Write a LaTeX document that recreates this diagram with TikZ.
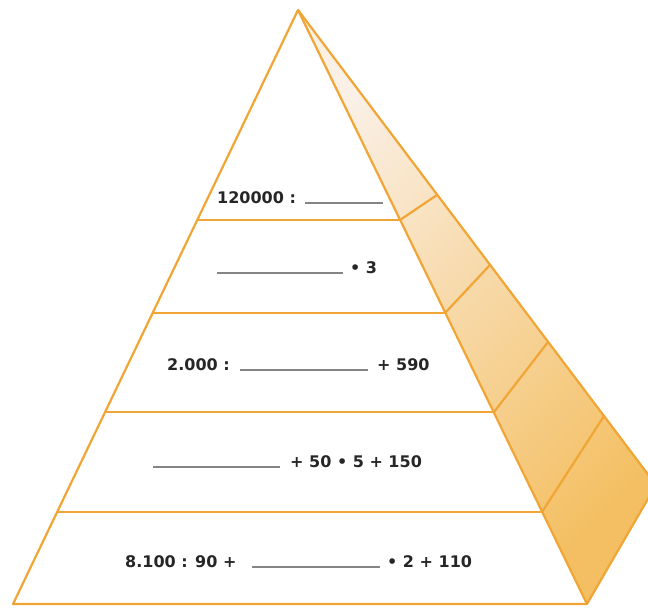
\documentclass[tikz,border=0pt]{standalone}
\usepackage{fontspec}
\setmainfont{DejaVu Sans}
\definecolor{edge}{HTML}{F0A535}
\definecolor{sidelight}{HTML}{FAF0E6}
\definecolor{sidedark}{HTML}{F4BF62}
\definecolor{txt}{HTML}{262626}
\definecolor{blank}{HTML}{858585}
\begin{document}
\begin{tikzpicture}[x=1pt,y=-1pt,
  edgeline/.style={draw=edge, line width=2.2pt, line join=round},
  eq/.style={anchor=base west, inner sep=0pt, font=\fontsize{16}{19}\selectfont\bfseries, text=txt},
  blankline/.style={draw=blank, line width=1.4pt}]
\useasboundingbox (0,0) rectangle (648,608);
\clip (0,0) rectangle (648,608);
% pyramid corners
\coordinate (A) at (298,10);
\coordinate (BL) at (13,604);
\coordinate (BR) at (587,604);
\coordinate (C) at (656,485);
% front level points
\coordinate (L1) at (197,220); \coordinate (R1) at (400,220); \coordinate (S1) at (437,195);
\coordinate (L2) at (153,313); \coordinate (R2) at (445,313); \coordinate (S2) at (490,265);
\coordinate (L3) at (105,412); \coordinate (R3) at (494,412); \coordinate (S3) at (548,342);
\coordinate (L4) at (57,512);  \coordinate (R4) at (542,512); \coordinate (S4) at (604,416);
% side face
\shade[top color=sidelight, bottom color=sidedark, shading angle=45] (A) -- (C) -- (BR) -- cycle;
\draw[edgeline] (A) -- (C) -- (BR);
\draw[edgeline] (R1) -- (S1);
\draw[edgeline] (R2) -- (S2);
\draw[edgeline] (R3) -- (S3);
\draw[edgeline] (R4) -- (S4);
% front face
\draw[edgeline, fill=white] (A) -- (BL) -- (BR) -- cycle;
\draw[edgeline] (L1) -- (R1);
\draw[edgeline] (L2) -- (R2);
\draw[edgeline] (L3) -- (R3);
\draw[edgeline] (L4) -- (R4);
% row 1
\node[eq] (t1a) at (217,203) {120000 :};
\draw[blankline] (305,203) -- (383,203);
% row 2
\draw[blankline] (217,273) -- (343,273);
\node[eq] (t2b) at (350,273) {• 3};
% row 3
\node[eq] (t3a) at (167,370) {2.000 :};
\draw[blankline] (240,370) -- (368,370);
\node[eq] (t3b) at (377,370) {+ 590};
% row 4
\draw[blankline] (153,467) -- (280,467);
\node[eq] (t4b) at (290,467) {+ 50 • 5 + 150};
% row 5
\node[eq] (t5a) at (125,567) {8.100 : 90 +};
\draw[blankline] (252,567) -- (380,567);
\node[eq] (t5b) at (387,567) {• 2 + 110};
\end{tikzpicture}
\end{document}
